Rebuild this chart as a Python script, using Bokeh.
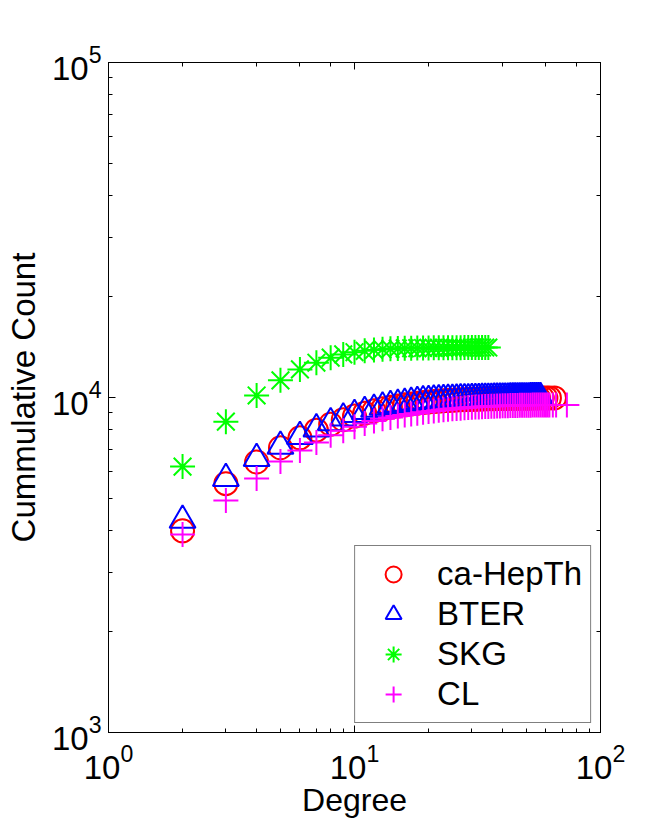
from bokeh.plotting import figure
from bokeh.models import (LogAxis, Legend, LegendItem, Range1d,
                          CustomJSTickFormatter)
from bokeh.embed import file_html
from bokeh.resources import INLINE

# ---------------- data ----------------
deg_ca = [2, 3, 4, 5, 6, 7, 8, 9, 10, 11, 12, 13, 14, 15, 16, 17, 18, 19, 20,
          21, 22, 23, 24, 25, 26, 27, 28, 29, 30, 31, 32, 33, 34, 35, 36, 37,
          38, 39, 40, 41, 42, 43, 44, 45, 46, 47, 48, 50, 51, 52, 54, 56, 58,
          60, 62, 65]
cnt_ca = [4000, 5530, 6420, 7080, 7580, 7990, 8320, 8580, 8800, 8980, 9130,
          9250, 9350, 9440, 9510, 9570, 9620, 9660, 9700, 9730, 9755, 9780,
          9800, 9815, 9830, 9845, 9855, 9865, 9875, 9885, 9892, 9900, 9906,
          9912, 9918, 9922, 9926, 9930, 9934, 9937, 9940, 9943, 9946, 9948,
          9950, 9952, 9954, 9957, 9959, 9961, 9963, 9965, 9967, 9968, 9970,
          9972]

deg_bter = [2, 3, 4, 5, 6, 7, 8, 9, 10, 11, 12, 13, 14, 15, 16, 17, 18, 19,
            20, 21, 22, 23, 24, 25, 26, 27, 28, 29, 30, 31, 32, 33, 34, 35,
            36, 37, 38, 39, 40, 41, 42, 43, 44, 45, 46, 47, 48, 49, 50, 51,
            52, 53, 54, 55, 56, 57]
cnt_bter = [4300, 5730, 6580, 7150, 7650, 8060, 8400, 8680, 8900, 9080, 9230,
            9360, 9460, 9550, 9620, 9680, 9730, 9770, 9800, 9825, 9845, 9862,
            9876, 9888, 9898, 9907, 9915, 9922, 9928, 9934, 9939, 9944, 9948,
            9952, 9956, 9959, 9962, 9965, 9968, 9970, 9972, 9974, 9976, 9978,
            9980, 9982, 9984, 9986, 9988, 9990, 9992, 9994, 9996, 9997, 9998,
            10000]

deg_skg = [2, 3, 4, 5, 6, 7, 8, 9, 10, 11, 12, 13, 14, 15, 16, 17, 18, 19, 20,
           21, 22, 23, 24, 25, 26, 27, 28, 29, 30, 31, 32, 33, 34, 35]
cnt_skg = [6220, 8470, 10140, 11250, 12130, 12700, 13150, 13450, 13650, 13780,
           13870, 13930, 13970, 14000, 14020, 14035, 14045, 14055, 14062,
           14068, 14072, 14076, 14080, 14083, 14086, 14088, 14090, 14092,
           14094, 14095, 14096, 14097, 14098, 14099]

deg_cl = [2, 3, 4, 5, 6, 7, 8, 9, 10, 11, 12, 13, 14, 15, 16, 17, 18, 19, 20,
          21, 22, 23, 24, 25, 26, 27, 28, 29, 30, 31, 32, 33, 34, 35, 36, 37,
          38, 39, 40, 41, 42, 43, 44, 45, 46, 47, 48, 49, 50, 51, 52, 53, 54,
          55, 56, 57, 58, 59, 60, 61, 62, 64, 66, 73]
cnt_cl = [3900, 4930, 5730, 6440, 6950, 7340, 7710, 7960, 8180, 8360, 8510,
          8640, 8720, 8800, 8870, 8930, 8980, 9030, 9080, 9120, 9160, 9195,
          9225, 9250, 9275, 9295, 9315, 9330, 9345, 9360, 9372, 9384, 9395,
          9405, 9414, 9422, 9430, 9437, 9443, 9449, 9455, 9460, 9464, 9468,
          9472, 9475, 9478, 9481, 9484, 9486, 9488, 9490, 9492, 9494, 9496,
          9497, 9498, 9499, 9500, 9501, 9502, 9503, 9504, 9505]

series_names = ["ca-HepTh", "BTER", "SKG", "CL"]
x_title = "Degree"
y_title = "Cummulative Count"

FONT = "Liberation Sans"

# ---------------- figure ----------------
p = figure(width=655, height=822, x_axis_type="log", y_axis_type="log",
           x_range=Range1d(1, 100), y_range=Range1d(1e3, 1e5),
           output_backend="svg", toolbar_location=None,
           frame_width=492, frame_height=670,
           min_border_left=108, min_border_right=55,
           min_border_top=62, min_border_bottom=90)
p.grid.visible = False
p.outline_line_color = "black"
p.background_fill_color = "white"
p.border_fill_color = "white"

top_ax = LogAxis()
right_ax = LogAxis()
p.add_layout(top_ax, "above")
p.add_layout(right_ax, "right")

for ax in p.xaxis + p.yaxis:
    ax.major_tick_in = 7
    ax.major_tick_out = 0
    ax.minor_tick_in = 4
    ax.minor_tick_out = 0
    ax.axis_line_color = "black"
    ax.major_tick_line_color = "black"
    ax.minor_tick_line_color = "black"
    ax.major_label_text_font = FONT
    ax.major_label_text_font_size = "33px"
    ax.major_label_text_color = "black"
    ax.axis_label_text_font = FONT
    ax.axis_label_text_font_size = "32px"
    ax.axis_label_text_font_style = "normal"
    ax.axis_label_text_color = "black"

for ax in (top_ax, right_ax):
    ax.formatter = CustomJSTickFormatter(code="return '0'")
    ax.major_label_text_font_size = "2px"
    ax.major_label_text_color = None
    ax.major_label_standoff = 0

bx = p.below[0]
bx.axis_label = x_title
bx.major_label_standoff = 11
bx.axis_label_standoff = 0

ly = p.left[0]
ly.axis_label = y_title
ly.axis_label_text_font_size = "33px"
ly.major_label_standoff = 7
ly.axis_label_standoff = 7

r1 = p.scatter(deg_ca, cnt_ca, marker="circle", size=23, fill_color=None,
               line_color="#ff0000", line_width=2)
r2 = p.scatter(deg_bter, cnt_bter, marker="triangle", size=26, fill_color=None,
               line_color="#0000ff", line_width=2)
r3 = p.scatter(deg_skg, cnt_skg, marker="asterisk", size=25,
               line_color="#00ff00", line_width=2)
r4 = p.scatter(deg_cl, cnt_cl, marker="cross", size=25,
               line_color="#ff00ff", line_width=2)

legend = Legend(items=[LegendItem(label=n, renderers=[r])
                       for n, r in zip(series_names, [r1, r2, r3, r4])],
                location="bottom_right", margin=9, padding=8, spacing=0,
                glyph_width=60, glyph_height=40, label_height=40,
                label_standoff=14,
                label_text_font=FONT, label_text_font_size="33px",
                label_text_color="black",
                border_line_color="black", border_line_width=1,
                background_fill_color="white", background_fill_alpha=1)
p.add_layout(legend)

open("out.html", "w").write(file_html(p, INLINE))
